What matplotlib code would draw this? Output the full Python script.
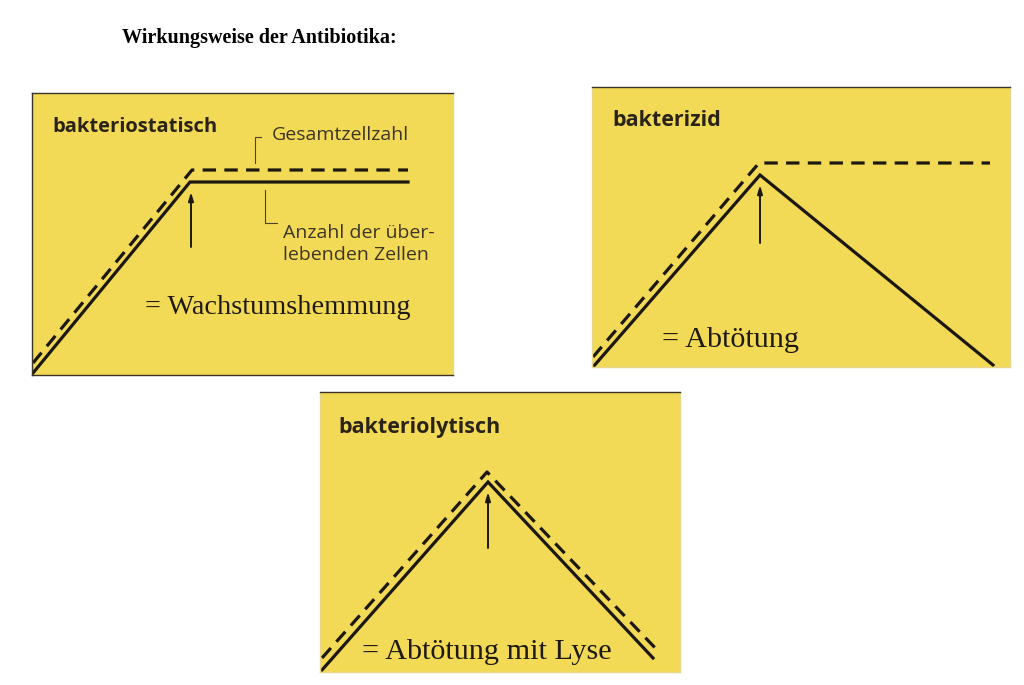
import matplotlib.pyplot as plt

# Panel geometry (figure pixels: left, top, right, bottom)
panel_boxes = {
    'statisch': (32, 93, 453, 375),
    'zid': (592, 87, 1010, 367),
    'lytisch': (320, 392, 680, 672),
}

# Curves inside each panel (x = Zeit, y = Zellzahl, in panel units)
statisch_solid_x = [1, 158, 376]
statisch_solid_y = [2, 193, 193]
statisch_dash_x = [1, 160, 376]
statisch_dash_y = [12, 205, 205]

zid_solid_x = [1, 168, 401]
zid_solid_y = [0, 192, 2]
zid_dash_x = [1, 167, 398]
zid_dash_y = [10, 204, 204]

lytisch_solid_x = [2, 168, 333]
lytisch_solid_y = [2, 190, 14]
lytisch_dash_x = [2, 167, 340]
lytisch_dash_y = [14, 200, 19]

# Zeitpunkt der Antibiotika-Zugabe (Pfeil)
arrow_x = {'statisch': 159, 'zid': 168, 'lytisch': 168}
arrow_y0 = {'statisch': 128, 'zid': 124, 'lytisch': 124}
arrow_y1 = {'statisch': 183, 'zid': 182, 'lytisch': 180}

titles = {'statisch': 'bakteriostatisch', 'zid': 'bakterizid', 'lytisch': 'bakteriolytisch'}
results = {'statisch': '= Wachstumshemmung', 'zid': '= Abtötung', 'lytisch': '= Abtötung mit Lyse'}
title_pos = {'statisch': (20, 248), 'zid': (20, 247), 'lytisch': (18, 245)}
result_pos = {'statisch': (113, 67), 'zid': (70, 27), 'lytisch': (42, 20)}
title_size = {'statisch': 14.5, 'zid': 15.5, 'lytisch': 15.5}
result_size = {'statisch': 20.3, 'zid': 21.8, 'lytisch': 21.8}

curves = {
    'statisch': (statisch_solid_x, statisch_solid_y, statisch_dash_x, statisch_dash_y),
    'zid': (zid_solid_x, zid_solid_y, zid_dash_x, zid_dash_y),
    'lytisch': (lytisch_solid_x, lytisch_solid_y, lytisch_dash_x, lytisch_dash_y),
}

W, H = 1024, 685
yellow = '#F3DA56'
ink = '#1c1810'

fig = plt.figure(figsize=(W / 100, H / 100), dpi=100)
fig.patch.set_facecolor('white')

fig.text(122 / W, 1 - 38 / H, 'Wirkungsweise der Antibiotika:', family='Liberation Serif',
         fontweight='bold', fontsize=14.5, va='center', ha='left', color='black')

for key, (l, t, r, b) in panel_boxes.items():
    ax = fig.add_axes([l / W, 1 - b / H, (r - l) / W, (b - t) / H])
    ax.set_facecolor(yellow)
    ax.set_xlim(0, r - l)
    ax.set_ylim(0, b - t)
    ax.set_xticks([])
    ax.set_yticks([])
    for s in ax.spines.values():
        s.set_color('#3a3426')
        s.set_linewidth(1.0)
    if key != 'statisch':
        ax.spines['left'].set_color('#e8d68a')
        ax.spines['right'].set_color('#e8d68a')
        ax.spines['bottom'].set_color('#e8d68a')
    else:
        ax.spines['right'].set_color('#e8d68a')

    sx, sy, dx, dy = curves[key]
    ax.plot(sx, sy, color=ink, lw=2.3, solid_joinstyle='miter', clip_on=True)
    ax.plot(dx, dy, color=ink, lw=2.3, dashes=(4.2, 2.6), clip_on=True)

    ax.annotate('', xy=(arrow_x[key], arrow_y1[key]), xytext=(arrow_x[key], arrow_y0[key]),
                arrowprops=dict(arrowstyle='-|>,head_length=0.5,head_width=0.15',
                                color=ink, lw=1.4, shrinkA=0, shrinkB=0))

    tx, ty = title_pos[key]
    ax.text(tx, ty, titles[key], family='Open Sans', fontweight='bold', fontsize=title_size[key],
            color='#2a2418', va='center', ha='left')
    rx, ry = result_pos[key]
    ax.text(rx, ry, results[key], family='Liberation Serif', fontsize=result_size[key],
            color='#1e1a12', va='center', ha='left')

    if key == 'statisch':
        # Beschriftung der Kurven
        ax.plot([223, 223, 229], [212, 238, 238], color='#4a4232', lw=0.8)
        ax.text(240, 240, 'Gesamtzellzahl', family='Open Sans', fontsize=14,
                color='#3d3626', va='center', ha='left')
        ax.plot([233, 233, 245], [185, 152, 152], color='#4a4232', lw=0.8)
        ax.text(251, 131, 'Anzahl der über-\nlebenden Zellen', family='Open Sans', fontsize=14,
                color='#3d3626', va='center', ha='left', linespacing=1.25)

fig.savefig('out.png', dpi=100, facecolor='white')
